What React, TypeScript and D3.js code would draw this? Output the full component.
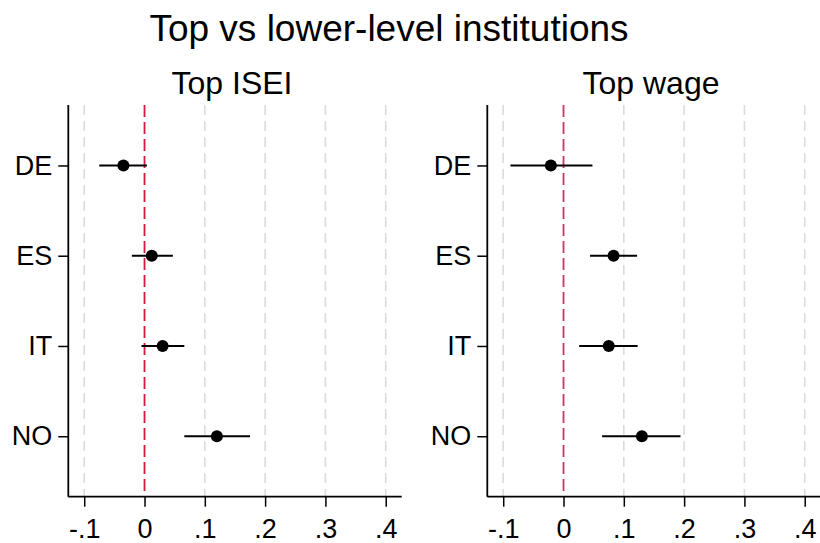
import React, { useEffect, useRef } from 'react';
import * as d3 from 'd3';

const countries = ['DE', 'ES', 'IT', 'NO'];
const xTicks = [-0.1, 0, 0.1, 0.2, 0.3, 0.4];

// Top ISEI
const iseiEst = [-0.035, 0.012, 0.030, 0.120];
const iseiLow = [-0.075, -0.021, -0.005, 0.066];
const iseiHigh = [0.004, 0.047, 0.066, 0.175];

// Top wage
const wageEst = [-0.021, 0.083, 0.075, 0.130];
const wageLow = [-0.088, 0.044, 0.026, 0.064];
const wageHigh = [0.048, 0.122, 0.123, 0.194];

const panelTitles = ['Top ISEI', 'Top wage'];
const mainTitle = 'Top vs lower-level institutions';

const W = 820, H = 543;
const FONT = '"Liberation Sans", Arial, Helvetica, sans-serif';

function fmt(v: number) {
  if (Math.abs(v) < 1e-9) return '0';
  return (v < 0 ? '-' : '') + Math.abs(v).toFixed(1).replace(/^0/, '');
}

export default function App() {
  const ref = useRef<SVGSVGElement>(null);

  useEffect(() => {
    const svg = d3.select(ref.current);
    svg.selectAll('*').remove();

    svg.append('rect').attr('width', W).attr('height', H).attr('fill', '#fff');

    svg.append('text')
      .attr('x', 389).attr('y', 41)
      .attr('text-anchor', 'middle')
      .style('font-family', FONT).style('font-size', '37px')
      .text(mainTitle);

    const panels = [
      { left: 68.3, est: iseiEst, low: iseiLow, high: iseiHigh, zero: '#d8173f' },
      { left: 487.3, est: wageEst, low: wageLow, high: wageHigh, zero: '#c4386a' },
    ];
    const top = 105, bottom = 496.7, width = 333.4;

    panels.forEach((p, k) => {
      const x = d3.scaleLinear().domain([-0.1264, 0.4265]).range([p.left, p.left + width]);
      const y = d3.scalePoint<string>().domain(countries).range([top, bottom]).padding(0.67);
      const g = svg.append('g');

      g.append('text')
        .attr('x', p.left + width / 2 - 3).attr('y', 94)
        .attr('text-anchor', 'middle')
        .style('font-family', FONT).style('font-size', '32px')
        .text(panelTitles[k]);

      // grid
      g.selectAll('.grid')
        .data(xTicks.filter(t => t !== 0))
        .enter().append('line')
        .attr('x1', d => x(d)).attr('x2', d => x(d))
        .attr('y1', top).attr('y2', bottom)
        .attr('stroke', '#dcdcdc').attr('stroke-width', 1.6)
        .attr('stroke-dasharray', '10,6');

      // zero line
      g.append('line')
        .attr('x1', x(0)).attr('x2', x(0))
        .attr('y1', top).attr('y2', bottom)
        .attr('stroke', p.zero).attr('stroke-width', 1.8)
        .attr('stroke-dasharray', '12,5');

      // CIs
      g.selectAll('.ci')
        .data(countries)
        .enter().append('line')
        .attr('x1', (d, i) => x(p.low[i])).attr('x2', (d, i) => x(p.high[i]))
        .attr('y1', d => y(d)!).attr('y2', d => y(d)!)
        .attr('stroke', '#000').attr('stroke-width', 2);

      g.selectAll('.pt')
        .data(countries)
        .enter().append('circle')
        .attr('cx', (d, i) => x(p.est[i])).attr('cy', d => y(d)!)
        .attr('r', 6).attr('fill', '#000');

      // axes
      const xAxis = g.append('g').attr('transform', `translate(0,${bottom})`)
        .call(d3.axisBottom(x).tickValues(xTicks).tickFormat(d => fmt(+d)).tickSize(10));
      const yAxis = g.append('g').attr('transform', `translate(${p.left},0)`)
        .call(d3.axisLeft(y).tickSize(10).tickPadding(6));

      [xAxis, yAxis].forEach(a => {
        a.select('.domain').attr('stroke', '#000').attr('stroke-width', 1.8);
        a.selectAll('.tick line').attr('stroke', '#000').attr('stroke-width', 1.5);
        a.selectAll('.tick text')
          .attr('fill', '#000')
          .style('font-family', FONT).style('font-size', '27px');
      });
      xAxis.select('.domain').attr('d', `M${p.left},0H${p.left + width}`);
      yAxis.select('.domain').attr('d', `M0,${top}V${bottom}`);
      xAxis.selectAll('.tick text').attr('dy', 0).attr('y', 41);
    });
  }, []);

  return (
    <svg ref={ref} width={W} height={H}
      style={{ position: 'absolute', left: 0, top: 0, display: 'block' }} />
  );
}
